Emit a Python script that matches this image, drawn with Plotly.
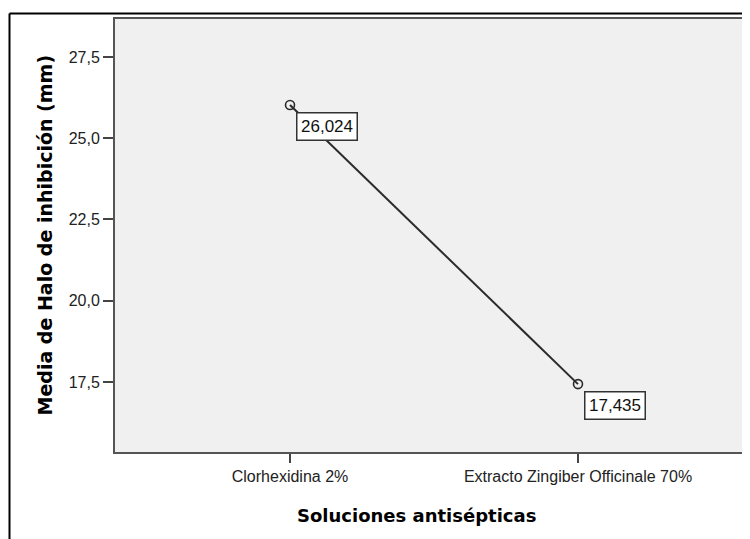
import plotly.graph_objects as go

categories = ["Clorhexidina 2%", "Extracto Zingiber Officinale 70%"]
means = [26.024, 17.435]
y_ticks = [17.5, 20.0, 22.5, 25.0, 27.5]

x_pos = list(range(len(categories)))

# page body has an 8px margin; plot area in figure coords: x 107..742, y 11..444
PL, PR, PT, PB = 107, 742, 11, 444
PW, PH = PR - PL, PB - PT

def px(xw):
    return (xw - 8 - PL) / PW

def py(yw):
    return (PB - (yw - 8)) / PH

fig = go.Figure()
fig.add_trace(go.Scatter(
    x=x_pos, y=means, mode="lines+markers",
    line=dict(color="#2b2b2b", width=2),
    marker=dict(symbol="circle-open", size=9, color="#2b2b2b", line=dict(width=1.6)),
    hoverinfo="skip", showlegend=False,
))

for xv, yv in zip(x_pos, means):
    fig.add_annotation(
        x=xv, y=yv, xref="x", yref="y",
        text=f"{yv:.3f}".replace(".", ","),
        showarrow=False, xanchor="left", yanchor="top",
        xshift=6, yshift=-7,
        bgcolor="white", bordercolor="#333333", borderwidth=1.5, borderpad=3,
        width=53, height=20,
        font=dict(family="Liberation Sans, Arial", size=17, color="#111111"),
    )

# axis titles as annotations
fig.add_annotation(
    x=px(416.5), y=py(515), xref="paper", yref="paper",
    text="<b>Soluciones antisépticas</b>", showarrow=False,
    xanchor="center", yanchor="middle",
    font=dict(family="DejaVu Sans", size=18, color="#000000"),
)
fig.add_annotation(
    x=px(44), y=py(235.5), xref="paper", yref="paper",
    text="<b>Media de Halo de inhibición (mm)</b>", showarrow=False,
    textangle=-90, xanchor="center", yanchor="middle",
    font=dict(family="DejaVu Sans", size=19, color="#000000"),
)

# outer frame (partially visible)
fx = px(9.5)
fy = py(13.5)
fig.add_shape(type="line", xref="paper", yref="paper", x0=fx, x1=fx, y0=-0.4, y1=fy,
              line=dict(color="#000000", width=2), layer="above")
fig.add_shape(type="line", xref="paper", yref="paper", x0=fx, x1=1.2, y0=fy, y1=fy,
              line=dict(color="#000000", width=2), layer="above")

fig.update_layout(
    width=750, height=539,
    margin=dict(l=PL, r=750 - PR, t=PT, b=539 - PB),
    paper_bgcolor="white", plot_bgcolor="#f0f0f0",
    separators=",.",
    showlegend=False,
    xaxis=dict(
        range=[(115 - 290) / 288, (750 - 290) / 288],
        tickvals=x_pos, ticktext=categories,
        ticks="outside", ticklen=9, tickwidth=1.5, tickcolor="#444444",
        showline=True, linecolor="#555555", linewidth=2, mirror=True,
        showgrid=False, zeroline=False,
        tickfont=dict(family="Liberation Sans, Arial", size=16, color="#222222"),
    ),
    yaxis=dict(
        range=[15.346, 28.669],
        tickvals=y_ticks, tickformat=".1f",
        ticks="outside", ticklen=10, tickwidth=1.5, tickcolor="#444444",
        showline=True, linecolor="#555555", linewidth=2, mirror=False,
        showgrid=False, zeroline=False,
        tickfont=dict(family="Liberation Sans, Arial", size=16, color="#222222"),
    ),
)

fig.write_html("out.html")
